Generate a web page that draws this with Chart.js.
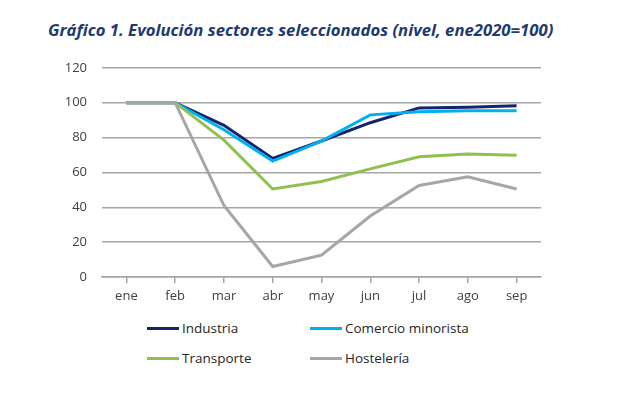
<!DOCTYPE html>
<html>
<head>
<meta charset="utf-8">
<script src="https://cdn.jsdelivr.net/npm/chart.js@4"></script>
<style>
    body { margin: 0; background: #fff; width: 643px; height: 397px; overflow: hidden; position: relative; font-family: 'Open Sans', sans-serif; }
    #title { position: absolute; left: 48px; top: 18px; font-size: 16.5px; font-weight: bold; font-style: italic; color: #1F3A6E; white-space: nowrap; transform-origin: 0 0; }
    #box { position: absolute; left: 0; top: 45px; width: 643px; height: 270px; }
    .leg { position: absolute; font-size: 13.5px; color: #262626; white-space: nowrap; }
    .leg span { display: inline-block; width: 32px; height: 3px; vertical-align: middle; margin-right: 3px; position: relative; top: -1px; }
</style>
</head>
<body>
<div id="title">Gráfico 1. Evolución sectores seleccionados (nivel, ene2020=100)</div>
<div id="box"><canvas id="chart"></canvas></div>
<div id="legend"></div>
<script>
const months = ['ene', 'feb', 'mar', 'abr', 'may', 'jun', 'jul', 'ago', 'sep']
const seriesNames = ['Industria', 'Comercio minorista', 'Transporte', 'Hostelería']
const industria = [100, 100, 87, 68, 78, 88.5, 97, 97.3, 98.2]
const comercio = [100, 100, 84.5, 66.5, 78, 93, 94.8, 95.4, 95.3]
const transporte = [100, 100, 78.5, 50.5, 54.8, 62, 69, 70.5, 69.8]
const hosteleria = [100, 100, 41, 6, 12.5, 35, 52.5, 57.5, 50.5]
const colors = ['#14266B', '#00B0F0', '#92C050', '#A6A6A6']

// titulo ajustado al ancho del original
const title = document.getElementById('title')
title.style.transform = 'scaleX(' + (505 / title.offsetWidth) + ')'

const allData = [industria, comercio, transporte, hosteleria]
// hostelería queda encima, como en el original
const drawOrder = [3, 2, 1, 0]

const chart = new Chart(document.getElementById('chart'), {
    type: 'line',
    data: {
        labels: months,
        datasets: seriesNames.map((name, i) => ({
            label: name,
            data: allData[i],
            borderColor: colors[i],
            backgroundColor: colors[i],
            borderWidth: 3,
            pointRadius: 0,
            tension: 0,
            order: drawOrder[i]
        }))
    },
    options: {
        responsive: true,
        maintainAspectRatio: false,
        animation: false,
        layout: { padding: { top: 12, right: 102, left: 0, bottom: 0 } },
        plugins: {
            legend: { display: false },
            tooltip: { enabled: false }
        },
        scales: {
            x: {
                offset: true,
                grid: { drawOnChartArea: false, drawTicks: true, tickLength: 6, color: '#A6A6A6', lineWidth: 1.5 },
                border: { display: true, color: '#A6A6A6', width: 1.5 },
                ticks: { color: '#404040', font: { family: 'Open Sans', size: 13 }, padding: 5, maxRotation: 0 },
                afterFit: (scale) => { scale.height = 38 }
            },
            y: {
                min: 0,
                max: 120,
                ticks: { stepSize: 20, color: '#404040', font: { family: 'Open Sans', size: 13 }, padding: 15 },
                grid: { drawTicks: false, color: '#A6A6A6', lineWidth: 1.5 },
                border: { display: false },
                afterFit: (scale) => { scale.width = 102 }
            }
        }
    }
})

// leyenda en dos columnas como en el original
const legendPos = [[147, 319], [310, 319], [147, 349], [310, 349]]
const legend = document.getElementById('legend')
seriesNames.forEach((name, i) => {
    const d = document.createElement('div')
    d.className = 'leg'
    d.style.left = legendPos[i][0] + 'px'
    d.style.top = legendPos[i][1] + 'px'
    d.innerHTML = '<span style="background:' + colors[i] + '"></span>' + name
    legend.appendChild(d)
})
</script>
</body>
</html>
